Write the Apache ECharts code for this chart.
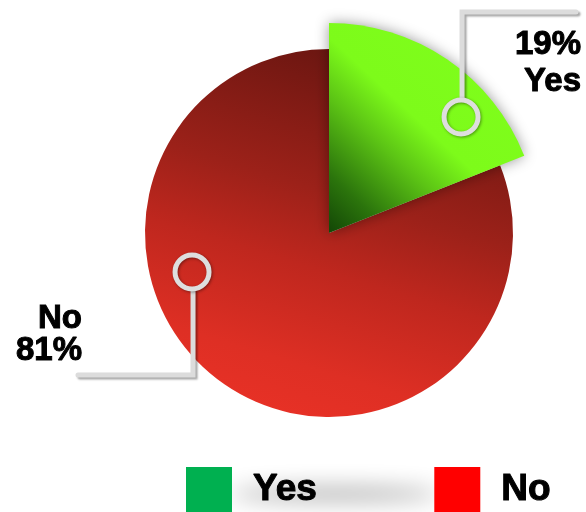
<!DOCTYPE html>
<html>
<head>
<meta charset="utf-8">
<script src="https://cdn.jsdelivr.net/npm/echarts@6/dist/echarts.min.js"></script>
<style>
  html, body { margin: 0; padding: 0; background: #ffffff; }
  #chart { width: 586px; height: 512px; }
</style>
</head>
<body>
<div id="chart"></div>
<script>
// Survey answers
const categories = ['Yes', 'No'];
const values = [19, 81];
const legendColors = ['#00b050', '#ff0000'];

const FONT = '"Liberation Sans", Arial, Helvetica, sans-serif';

// Pie geometry (pixels)
const CX = 329, CY = 233;
const RADIUS = { Yes: 210, No: 184 };
const RING_R = 17;

// Slice fills
const fills = {
  Yes: {
    type: 'linear', x: 0, y: 1, x2: 1, y2: 0,
    colorStops: [
      { offset: 0, color: '#134606' },
      { offset: 0.15, color: '#2b740c' },
      { offset: 0.35, color: '#5cc415' },
      { offset: 0.5, color: '#7dfb1a' },
      { offset: 1, color: '#80ff1c' }
    ]
  },
  No: {
    type: 'linear', x: 0.65, y: 0, x2: 0.35, y2: 1,
    colorStops: [
      { offset: 0, color: '#661510' },
      { offset: 0.4, color: '#9c2119' },
      { offset: 0.6, color: '#bf271e' },
      { offset: 0.85, color: '#de2f24' },
      { offset: 1, color: '#e83126' }
    ]
  }
};

// Callout placement: marker angle (deg, counter-clockwise from 3 o'clock),
// fraction of the slice radius, elbow and text anchors
const callouts = {
  Yes: { angle: 41.3, frac: 0.837, dir: -1, elbowY: 12, endX: 576, textX: 581, textY: 26, lineHeight: 37, fmt: '{d}%\n{b}' },
  No:  { angle: 195.9, frac: 0.774, dir: 1, elbowY: 375, endX: 78, textX: 82, textY: 303, lineHeight: 32, fmt: '{b}\n{d}%' }
};

function markerPoint(name) {
  const c = callouts[name];
  const a = c.angle * Math.PI / 180;
  const r = RADIUS[name] * c.frac;
  return [CX + r * Math.cos(a), CY - r * Math.sin(a)];
}

function leaderPoints(name) {
  const c = callouts[name];
  const p = markerPoint(name);
  const lineX = p[0] + 1;
  return [
    [lineX, p[1] + c.dir * (RING_R + 2)],
    [lineX, c.elbowY],
    [c.endX, c.elbowY]
  ];
}

function seriesFor(active, z) {
  const c = callouts[active];
  return {
    type: 'pie',
    z: z,
    center: [CX, CY],
    radius: [0, RADIUS[active]],
    startAngle: 90,
    clockwise: true,
    animation: false,
    silent: true,
    avoidLabelOverlap: false,
    data: categories.map((name, i) => {
      if (name !== active) {
        return {
          name, value: values[i],
          itemStyle: { color: 'rgba(0,0,0,0)', borderWidth: 0 },
          label: { show: false },
          labelLine: { show: false }
        };
      }
      return {
        name, value: values[i],
        itemStyle: active === 'Yes'
          ? { color: fills[name], borderWidth: 0, shadowBlur: 14, shadowColor: 'rgba(0,0,0,0.4)' }
          : { color: fills[name], borderWidth: 0 },
        label: {
          show: true,
          position: 'outside',
          formatter: c.fmt,
          fontFamily: FONT,
          fontSize: 33,
          fontWeight: 'bold',
          color: '#000',
          textBorderColor: '#000',
          textBorderWidth: 1,
          lineHeight: c.lineHeight,
          align: 'right'
        },
        labelLine: { show: false }
      };
    }),
    labelLayout: function () {
      return { x: c.textX, y: c.textY, align: 'right', verticalAlign: 'top' };
    }
  };
}

const chart = echarts.init(document.getElementById('chart'), null, { renderer: 'canvas' });

const leaders = categories.map(name => ({
  type: 'polyline',
  z: 99,
  silent: true,
  shape: { points: leaderPoints(name) },
  style: {
    fill: 'none', stroke: '#dcdcdc', lineWidth: 5, lineCap: 'round', lineJoin: 'miter',
    shadowBlur: 2, shadowColor: 'rgba(0,0,0,0.35)', shadowOffsetX: 2, shadowOffsetY: 2
  }
}));

const rings = categories.map(name => {
  const p = markerPoint(name);
  return {
    type: 'circle',
    z: 100,
    silent: true,
    shape: { cx: p[0], cy: p[1], r: RING_R },
    style: {
      fill: 'none', stroke: '#dedede', lineWidth: 5,
      shadowBlur: 3, shadowColor: 'rgba(0,0,0,0.4)', shadowOffsetX: 1, shadowOffsetY: 1
    }
  };
});

// soft grey haze under the legend labels (shape kept off-canvas, only its shadow shows)
const legendHaze = {
  type: 'ellipse',
  z: -1,
  silent: true,
  shape: { cx: 335, cy: 1000 + 494, rx: 105, ry: 7 },
  style: {
    fill: '#000', shadowBlur: 22, shadowColor: 'rgba(0,0,0,0.32)', shadowOffsetY: -1000
  }
};

chart.setOption({
  backgroundColor: '#ffffff',
  animation: false,
  legend: {
    left: 186,
    top: 467,
    padding: 0,
    icon: 'rect',
    itemWidth: 46,
    itemHeight: 46,
    itemGap: 117,
    selectedMode: false,
    data: categories.map((name, i) => ({ name, itemStyle: { color: legendColors[i] } })),
    textStyle: {
      fontFamily: FONT,
      fontSize: 37,
      fontWeight: 'bold',
      color: '#000',
      textBorderColor: '#000',
      textBorderWidth: 1,
      padding: [0, 0, 0, 16]
    }
  },
  graphic: [legendHaze].concat(leaders, rings),
  series: [seriesFor('No', 1), seriesFor('Yes', 2)]
});
</script>
</body>
</html>
